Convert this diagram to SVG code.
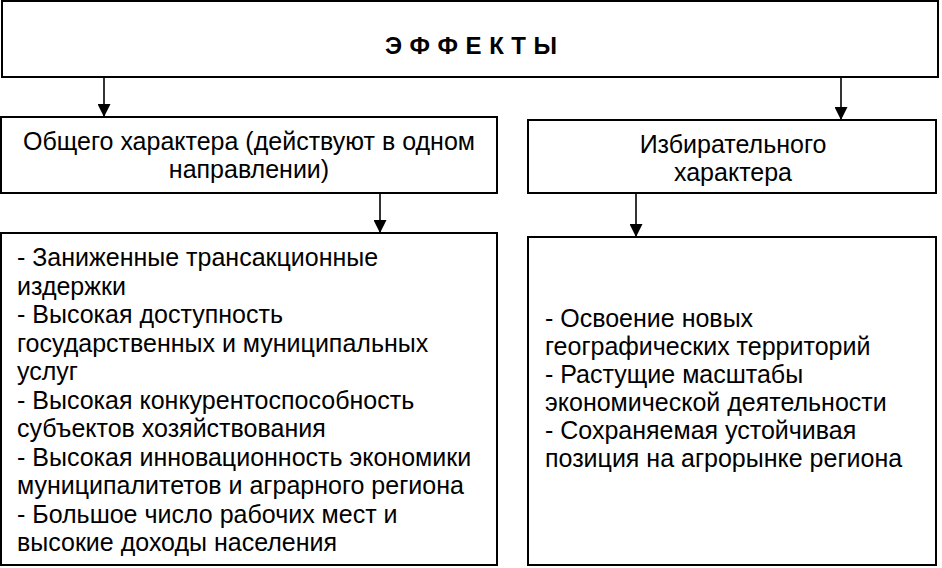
<svg xmlns="http://www.w3.org/2000/svg" width="942" height="568" viewBox="0 0 942 568">
<defs>
<style>
.box{fill:#fff;stroke:#000;stroke-width:2}
.t{font-family:"Liberation Sans",Arial,sans-serif;font-size:25px;fill:#000}
.c{text-anchor:middle}
.h{font-family:"Liberation Sans",Arial,sans-serif;font-size:24px;font-weight:bold;fill:#000}
.ln{stroke:#000;stroke-width:1.6;fill:none}
</style>
<marker id="arr" markerUnits="userSpaceOnUse" markerWidth="13" markerHeight="13" viewBox="0 0 13 13" refX="13" refY="6.5" orient="auto">
<path d="M0,0 L13,6.5 L0,13 Z" fill="#000"/>
</marker>
</defs>
<rect width="942" height="568" fill="#fff"/>
<g id="effects">
<rect class="box" x="2" y="1" width="936" height="76"/>
<text class="h" x="385" y="54" textLength="172" lengthAdjust="spacing">Э Ф Ф Е К Т Ы</text>
</g>
<g id="general">
<rect class="box" x="1" y="117" width="496" height="76"/>
<text class="t c" x="249" y="150">Общего характера (действуют в одном</text>
<text class="t c" x="249" y="178">направлении)</text>
</g>
<g id="selective">
<rect class="box" x="528" y="120" width="408" height="73"/>
<text class="t c" x="733" y="153">Избирательного</text>
<text class="t c" x="733" y="181">характера</text>
</g>
<g id="general-list">
<rect class="box" x="1" y="233" width="496" height="332"/>
<text class="t" x="17" y="266">- Заниженные трансакционные</text>
<text class="t" x="17" y="294.5">издержки</text>
<text class="t" x="17" y="323">- Высокая доступность</text>
<text class="t" x="17" y="351.5">государственных и муниципальных</text>
<text class="t" x="17" y="380">услуг</text>
<text class="t" x="17" y="408.5">- Высокая конкурентоспособность</text>
<text class="t" x="17" y="437">субъектов хозяйствования</text>
<text class="t" x="17" y="465.5">- Высокая инновационность экономики</text>
<text class="t" x="17" y="494">муниципалитетов и аграрного региона</text>
<text class="t" x="17" y="522.5">- Большое число рабочих мест и</text>
<text class="t" x="17" y="551">высокие доходы населения</text>
</g>
<g id="selective-list">
<rect class="box" x="528" y="237" width="408" height="328"/>
<text class="t" x="545" y="327">- Освоение новых</text>
<text class="t" x="545" y="355">географических территорий</text>
<text class="t" x="545" y="383">- Растущие масштабы</text>
<text class="t" x="545" y="411">экономической деятельности</text>
<text class="t" x="545" y="439">- Сохраняемая устойчивая</text>
<text class="t" x="545" y="467">позиция на агрорынке региона</text>
</g>
<g id="connectors">
<line class="ln" x1="104" y1="77" x2="104" y2="117" marker-end="url(#arr)"/>
<line class="ln" x1="841" y1="78" x2="841" y2="120" marker-end="url(#arr)"/>
<line class="ln" x1="380" y1="193" x2="380" y2="233" marker-end="url(#arr)"/>
<line class="ln" x1="636" y1="194" x2="636" y2="237" marker-end="url(#arr)"/>
</g>
</svg>
